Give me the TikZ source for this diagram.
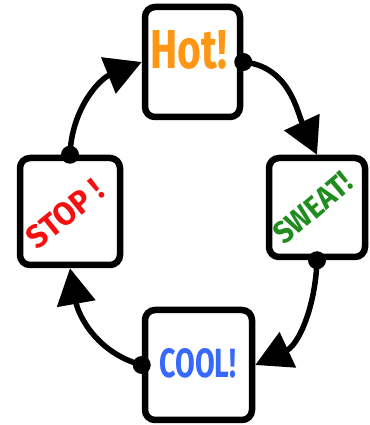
\documentclass[tikz,border=0pt]{standalone}
\usepackage{graphicx}
\usepackage{fontspec}
\setmainfont{Fira Sans}
\usetikzlibrary{arrows.meta}
\definecolor{hotc}{RGB}{255,150,20}
\definecolor{sweatc}{RGB}{30,140,30}
\definecolor{stopc}{RGB}{245,15,15}
\definecolor{coolc}{RGB}{55,105,255}
\tikzset{
  card/.style={draw=black, line width=6.5pt, rounded corners=10pt, fill=white, inner sep=0pt},
  flow/.style={line width=5.5pt, -{Triangle[length=36pt,width=38pt]}},
  dotmark/.style={fill=black},
  word/.style={font=\bfseries, inner sep=0pt}
}
\begin{document}
\begin{tikzpicture}[x=1pt,y=1pt]
\useasboundingbox (0,0) rectangle (369,425);
% boxes
\node[card, minimum width=95pt, minimum height=110pt] (hot) at (192.5,363) {};
\node[card, minimum width=96pt, minimum height=99pt] (sweat) at (317,217.5) {};
\node[card, minimum width=107pt, minimum height=110pt] (cool) at (198.5,60) {};
\node[card, minimum width=100pt, minimum height=107pt] (stop) at (70,213.5) {};
% texts
\node[word, text=hotc] (thot) at (189,375) {\resizebox{77pt}{38pt}{Hot!}};
\node[word, text=sweatc, rotate=40] (tsweat) at (313,217) {\resizebox{92pt}{22pt}{SWEAT!}};
\node[word, text=coolc] (tcool) at (198,62) {\resizebox{77pt}{29pt}{COOL!}};
\node[word, text=stopc, rotate=39] (tstop) at (65,211) {\resizebox{88pt}{23pt}{STOP !}};
% connectors
\draw[flow] (hot.east) to[out=-5, in=115] (sweat.north);
\draw[flow] (sweat.south) to[out=-92, in=25] (cool.east);
\draw[flow] (cool.west) to[out=165, in=-80] (stop.south);
\draw[flow] (stop.north) to[out=88, in=-158] (hot.west);
% dots
\fill[dotmark] (hot.east) circle (9pt);
\fill[dotmark] (sweat.south) circle (9pt);
\fill[dotmark] (cool.west) circle (9pt);
\fill[dotmark] (stop.north) circle (9pt);
\end{tikzpicture}
\end{document}
